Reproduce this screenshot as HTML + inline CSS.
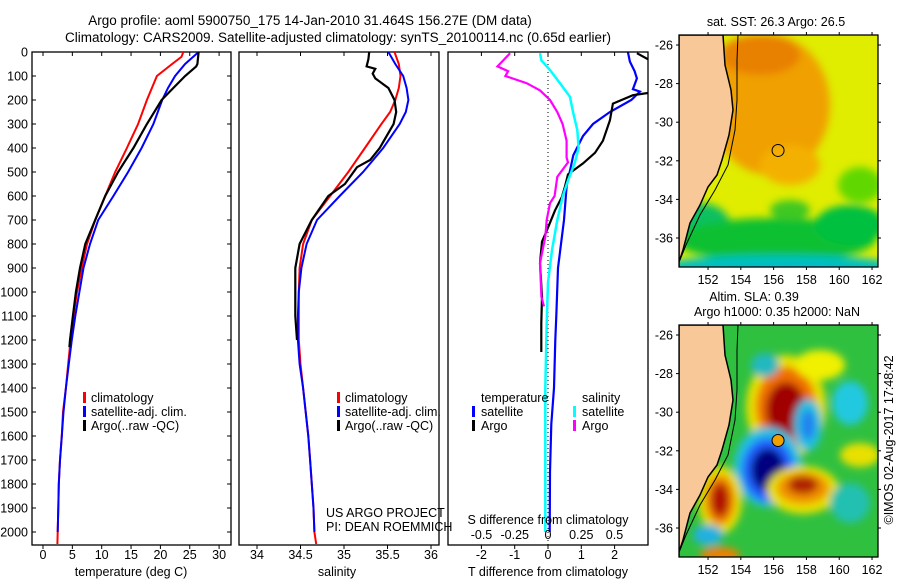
<!DOCTYPE html>
<html><head><meta charset="utf-8"><style>
html,body{margin:0;padding:0;background:#fff;}
svg{display:block;font-family:"Liberation Sans",sans-serif;}
</style></head><body>
<svg id="fig" width="900" height="580" viewBox="0 0 900 580" xmlns="http://www.w3.org/2000/svg">
<defs>
<clipPath id="c1"><rect x="32" y="52" width="199" height="493"/></clipPath>
<clipPath id="c2"><rect x="239" y="52" width="200" height="493"/></clipPath>
<clipPath id="c3"><rect x="448" y="52" width="200" height="493"/></clipPath>
<clipPath id="cm1"><rect x="679" y="35" width="199" height="232"/></clipPath>
<clipPath id="cm2"><rect x="679" y="325" width="199" height="232"/></clipPath>
<filter id="bl" x="-50%" y="-50%" width="200%" height="200%"><feGaussianBlur stdDeviation="4"/></filter>
</defs>
<text x="310" y="25" font-size="13.5" text-anchor="middle">Argo profile: aoml 5900750_175 14-Jan-2010 31.464S 156.27E (DM data)</text>
<text x="338" y="42" font-size="13.5" text-anchor="middle">Climatology: CARS2009. Satellite-adjusted climatology: synTS_20100114.nc (0.65d earlier)</text>
<g id="g1"></g>
<g id="g2"></g>
<g id="g3"></g>
<g id="m1"></g>
<g id="m2"></g>
<text x="0" y="0" font-size="12.5" text-anchor="middle" transform="translate(893,440) rotate(-90)">©IMOS 02-Aug-2017 17:48:42</text>
</svg>
<script>
// ---- data ----
const tClimDepth=[0,20,50,100,200,300,400,500,600,700,800,900,1000,1100,1200,1300,1400,1500,1600,1700,1800,1900,2000,2050];
const tClimVal=[23.9,23.6,22.0,19.4,17.7,16.2,14.3,12.3,10.6,8.9,7.5,6.6,5.8,5.2,4.7,4.3,3.9,3.4,3.2,2.9,2.7,2.6,2.5,2.45];
const tSatDepth=[0,50,100,150,200,300,400,500,600,700,800,900,1000,1100,1200,1300,1400,1500,1600,1700,1800,1900,2000];
const tSatVal=[26.5,24.2,22.5,21.3,20.3,18.8,16.8,14.5,12.0,9.4,8.0,6.9,6.2,5.5,4.9,4.4,3.9,3.5,3.2,2.9,2.7,2.6,2.5];
const tArgoDepth=[0,50,60,100,150,200,300,400,500,600,700,800,900,1000,1100,1200,1230];
const tArgoVal=[26.5,26.3,26.1,24.2,22.2,20.2,17.7,15.4,12.8,10.6,8.9,7.2,6.3,5.6,5.1,4.6,4.5];
const sClimDepth=[0,50,100,150,200,250,300,400,500,600,700,800,900,1000,1100,1200,1300,1400,1500,1600,1700,1800,1900,2000,2050];
const sClimVal=[35.58,35.63,35.65,35.63,35.59,35.53,35.43,35.24,35.05,34.84,34.63,34.53,34.49,34.48,34.48,34.48,34.50,34.53,34.56,34.59,34.61,34.63,34.65,34.66,34.68];
const sSatDepth=[0,50,100,150,200,250,300,400,500,600,700,800,900,1000,1100,1200,1300,1400,1500,1600,1700,1800,1900,2000];
const sSatVal=[35.51,35.59,35.68,35.72,35.74,35.71,35.64,35.45,35.22,34.95,34.69,34.57,34.51,34.48,34.47,34.47,34.49,34.53,34.56,34.59,34.61,34.63,34.65,34.66];
const sArgoDepth=[0,30,60,70,90,110,150,200,250,300,400,450,480,550,600,700,800,900,1000,1100,1200];
const sArgoVal=[35.29,35.28,35.26,35.36,35.33,35.36,35.51,35.58,35.60,35.57,35.41,35.30,35.15,35.01,34.82,34.63,34.49,34.44,34.44,34.44,34.46];
const dTSatDepth=[0,40,80,110,155,165,200,250,300,350,430,560,700,900,1100,1200,1400,1550,1750,2000];
const dTSatVal=[2.4,2.46,2.6,2.67,2.55,2.76,2.5,1.86,1.35,1.05,0.76,0.56,0.48,0.30,0.25,0.22,0.18,0.10,0.06,0.05];
const dTArgoDepth=[5,30,46,171,180,215,285,370,420,464,510,560,603,660,742,790,880,1019,1130,1250];
const dTArgoVal=[2.67,3.0,3.6,3.0,2.55,1.95,1.86,1.65,1.41,1.05,0.6,0.51,0.42,0.21,-0.03,-0.18,-0.24,-0.18,-0.2,-0.2];
const dSArgoDepth=[5,60,80,100,130,160,200,250,300,370,440,460,520,600,630,700,770,880,1019,1060];
const dSArgoVal=[-0.285,-0.38,-0.3,-0.32,-0.16,-0.06,0.015,0.07,0.11,0.14,0.14,0.15,0.07,0.05,0.015,-0.01,-0.02,-0.06,-0.05,-0.03];
const dSSatDepth=[5,35,75,130,186,255,325,400,464,535,603,700,825,960,1130,1400,1700,2000];
const dSSatVal=[-0.06,-0.05,0.015,0.09,0.165,0.19,0.22,0.23,0.2,0.15,0.11,0.07,0.03,0.0,-0.01,-0.02,-0.02,-0.02];
const depthTicks=[0,100,200,300,400,500,600,700,800,900,1000,1100,1200,1300,1400,1500,1600,1700,1800,1900,2000];
const tempTicks=[0,5,10,15,20,25,30];
const salTicks=[34,34.5,35,35.5,36];
const salTickLabels=["34","34.5","35","35.5","36"];
const dTTicks=[-2,-1,0,1,2];
const dSTicks=[-0.5,-0.25,0,0.25,0.5];
const dSTickLabels=["-0.5","-0.25","0","0.25","0.5"];
const lonTicks=[152,154,156,158,160,162];
const latTicks=[-26,-28,-30,-32,-34,-36];
const argoLon=156.27, argoLat=-31.464;

// ---- scales ----
const yD=d=>52+d*0.24;
const xT=t=>43+t*5.87;
const xS=s=>257+(s-34)*87;
const xDT=t=>548+t*33.3;
const xDS=s=>548+s*133;
const NS="http://www.w3.org/2000/svg";
function mk(tag,attrs,parent,txt){const e=document.createElementNS(NS,tag);for(const k in attrs)e.setAttribute(k,attrs[k]);if(txt!==undefined)e.textContent=txt;parent.appendChild(e);return e;}
function line(depths,vals,xf,color,parent,clip,name,w){
  let d='';depths.forEach((dp,i)=>{d+=(i?'L':'M')+xf(vals[i]).toFixed(1)+' '+yD(dp).toFixed(1);});
  const p=mk('path',{d:d,fill:'none',stroke:color,'stroke-width':w||2,'clip-path':'url(#'+clip+')'},parent);
  
  
}
function frame(g,x,y,w,h,name){const r=mk('rect',{x:x,y:y,width:w,height:h,fill:'none',stroke:'#000','stroke-width':1.3},g);}
function txt(g,x,y,s,anchor,name,size){const t=mk('text',{x:x,y:y,'font-size':size||12.5,'text-anchor':anchor||'start'},g,s);return t;}
function legMark(g,x,y,color,name){const r=mk('rect',{x:x,y:y-10,width:3,height:11,fill:color},g);}

// ---- panel 1 ----
const g1=document.getElementById('g1');
frame(g1,32,52,199,493,'temperature-plot-frame');
depthTicks.forEach(d=>{const y=yD(d);mk('line',{x1:32,x2:36,y1:y,y2:y,stroke:'#000'},g1);mk('line',{x1:227,x2:231,y1:y,y2:y,stroke:'#000'},g1);
  txt(g1,28,y+4.5,String(d),'end','depth-tick-label',12.5);});
tempTicks.forEach(v=>{const x=xT(v);mk('line',{x1:x,x2:x,y1:52,y2:56,stroke:'#000'},g1);mk('line',{x1:x,x2:x,y1:545,y2:549,stroke:'#000'},g1);txt(g1,x,559,String(v),'middle','temperature-tick-label');});
txt(g1,131,576,'temperature (deg C)','middle','temperature-axis-title');
line(tClimDepth,tClimVal,xT,'#f00',g1,'c1','temperature-climatology-line');
line(tSatDepth,tSatVal,xT,'#00f',g1,'c1','temperature-satellite-line');
line(tArgoDepth,tArgoVal,xT,'#000',g1,'c1','temperature-argo-line',2.2);
legMark(g1,83,402,'#f00','legend-climatology-marker');txt(g1,91,402,'climatology','start','legend-climatology');
legMark(g1,83,416,'#00f','legend-satellite-marker');txt(g1,91,416,'satellite-adj. clim.','start','legend-satellite');
legMark(g1,83,430,'#000','legend-argo-marker');txt(g1,91,430,'Argo(..raw -QC)','start','legend-argo');

// ---- panel 2 ----
const g2=document.getElementById('g2');
frame(g2,239,52,200,493,'salinity-plot-frame');
salTicks.forEach((v,i)=>{const x=xS(v);mk('line',{x1:x,x2:x,y1:52,y2:56,stroke:'#000'},g2);mk('line',{x1:x,x2:x,y1:545,y2:549,stroke:'#000'},g2);txt(g2,x,559,salTickLabels[i],'middle','salinity-tick-label');});
txt(g2,337,576,'salinity','middle','salinity-axis-title');
line(sClimDepth,sClimVal,xS,'#f00',g2,'c2','salinity-climatology-line');
line(sSatDepth,sSatVal,xS,'#00f',g2,'c2','salinity-satellite-line');
line(sArgoDepth,sArgoVal,xS,'#000',g2,'c2','salinity-argo-line',2.2);
legMark(g2,337,402,'#f00','legend-climatology-marker');txt(g2,345,402,'climatology','start','legend-climatology');
legMark(g2,337,416,'#00f','legend-satellite-marker');txt(g2,345,416,'satellite-adj. clim.','start','legend-satellite');
legMark(g2,337,430,'#000','legend-argo-marker');txt(g2,345,430,'Argo(..raw -QC)','start','legend-argo');
txt(g2,326,517,'US ARGO PROJECT','start','project-credit');
txt(g2,326,531,'PI: DEAN ROEMMICH','start','pi-credit');

// ---- panel 3 ----
const g3=document.getElementById('g3');
mk('line',{x1:548,x2:548,y1:52,y2:545,stroke:'#000','stroke-dasharray':'1 3'},g3);
line(dTSatDepth,dTSatVal,xDT,'#00f',g3,'c3','t-diff-satellite-line',2.2);
line(dTArgoDepth,dTArgoVal,xDT,'#000',g3,'c3','t-diff-argo-line',2.2);
line(dSSatDepth,dSSatVal,xDS,'#0ff',g3,'c3','s-diff-satellite-line',2.5);
line(dSArgoDepth,dSArgoVal,xDS,'#f0f',g3,'c3','s-diff-argo-line',2.2);
frame(g3,448,52,200,493,'difference-plot-frame');
dTTicks.forEach(v=>{const x=xDT(v);mk('line',{x1:x,x2:x,y1:52,y2:56,stroke:'#000'},g3);mk('line',{x1:x,x2:x,y1:545,y2:549,stroke:'#000'},g3);txt(g3,x,559,String(v),'middle','t-diff-tick-label');});
dSTicks.forEach((v,i)=>{txt(g3,xDS(v),539,dSTickLabels[i],'middle','s-diff-tick-label');});
txt(g3,548,524,'S difference from climatology','middle','s-diff-axis-title');
txt(g3,548,576,'T difference from climatology','middle','t-diff-axis-title');
txt(g3,481,402,'temperature','start','legend-temperature-heading');
txt(g3,582,402,'salinity','start','legend-salinity-heading');
legMark(g3,472,416,'#00f','legend-t-satellite-marker');txt(g3,481,416,'satellite','start','legend-t-satellite');
legMark(g3,472,430,'#000','legend-t-argo-marker');txt(g3,481,430,'Argo','start','legend-t-argo');
legMark(g3,573,416,'#0ff','legend-s-satellite-marker');txt(g3,582,416,'satellite','start','legend-s-satellite');
legMark(g3,573,430,'#f0f','legend-s-argo-marker');txt(g3,582,430,'Argo','start','legend-s-argo');

// ---- maps ----
const coast=[[723,0],[725,30],[731,55],[733,75],[729,100],[722,125],[717,140],[708,152],[700,170],[690,188],[683,215],[679,227]];
const shelf=[[738,0],[737,25],[737,65],[735,95],[728,130],[715,155],[700,180],[686,210],[680,225]];
function map(gid,top,clip,blobs,bg,title,circleFill){
  const g=document.getElementById(gid);
  const xL=lon=>679+(lon-150.23)*16.4;
  const yL=lat=>top+10+(-26-lat)*19.3;
  const inner=mk('g',{'clip-path':'url(#'+clip+')'},g);
  mk('rect',{x:679,y:top,width:199,height:232,fill:bg},inner);
  const bg2=mk('g',{filter:'url(#bl)'},inner);
  blobs.forEach(b=>{const e=mk('ellipse',{cx:b[0],cy:top+b[1],rx:b[2],ry:b[3],fill:b[4]},bg2);});
  let d='M679 '+top;coast.forEach(p=>{d+='L'+p[0]+' '+(top+p[1]);});d+='L679 '+(top+232)+'Z';
  const land=mk('path',{d:d,fill:'#f9c898',stroke:'#000','stroke-width':1.5},inner);
  let s='';shelf.forEach((p,i)=>{s+=(i?'L':'M')+p[0]+' '+(top+p[1]);});
  mk('path',{d:s,fill:'none',stroke:'#000','stroke-width':1},inner);
  const c=mk('circle',{cx:xL(argoLon),cy:yL(argoLat),r:6,fill:circleFill,stroke:'#000','stroke-width':1},g);
  
  frame(g,679,top,199,232,'map-frame');
  lonTicks.forEach(v=>{const x=xL(v);mk('line',{x1:x,x2:x,y1:top-3,y2:top,stroke:'#000'},g);mk('line',{x1:x,x2:x,y1:top+232,y2:top+235,stroke:'#000'},g);txt(g,x,top+249,String(v),'middle','longitude-tick-label');});
  latTicks.forEach(v=>{const y=yL(v);mk('line',{x1:676,x2:679,y1:y,y2:y,stroke:'#000'},g);mk('line',{x1:878,x2:881,y1:y,y2:y,stroke:'#000'},g);txt(g,673,y+4.5,String(v),'end','latitude-tick-label');});
  title.forEach((t,i)=>txt(g,t[0],t[1],t[2],'middle','map-title'));
}
map('m1',35,'cm1',[
  [770,70,60,70,'#f0a000'],[760,20,40,20,'#e88000'],[790,130,30,20,'#f4b000'],
  [860,150,22,18,'#60d800'],
  [700,190,30,22,'#10c060'],[775,205,100,22,'#10c030'],[790,175,20,10,'#40c820'],[850,190,35,20,'#00c040'],
  [780,232,120,12,'#00c0c0'],[800,243,80,9,'#2090e0']
],'#e0ec00',[[776,26,'sat. SST: 26.3 Argo: 26.5']],'none');
map('m2',325,'cm2',[
  [786,82,40,52,'#e8e000'],[786,82,30,40,'#f07000'],[786,85,20,28,'#a00000'],
  [768,142,34,40,'#20c0e0'],[768,145,26,32,'#2060ff'],[768,145,17,22,'#000080'],
  [720,175,22,34,'#e8e000'],[720,175,15,25,'#f08000'],[720,175,9,17,'#b01000'],
  [803,165,36,24,'#e8e000'],[803,163,26,16,'#f09000'],[803,160,15,9,'#b02000'],
  [808,100,14,26,'#20c0e0'],[808,100,7,15,'#2080f0'],
  [850,78,18,22,'#20c8e0'],[850,178,20,20,'#20c0b0'],
  [765,40,14,12,'#20b8c0'],[708,210,15,10,'#20b0e0'],[820,40,25,15,'#f0f000'],[860,130,20,12,'#e8e000'],[720,230,20,8,'#f08000']
],'#30c040',[[754,301,'Altim. SLA: 0.39'],[777,316,'Argo h1000: 0.35 h2000: NaN']],'#f0a000');
</script>
</body></html>
